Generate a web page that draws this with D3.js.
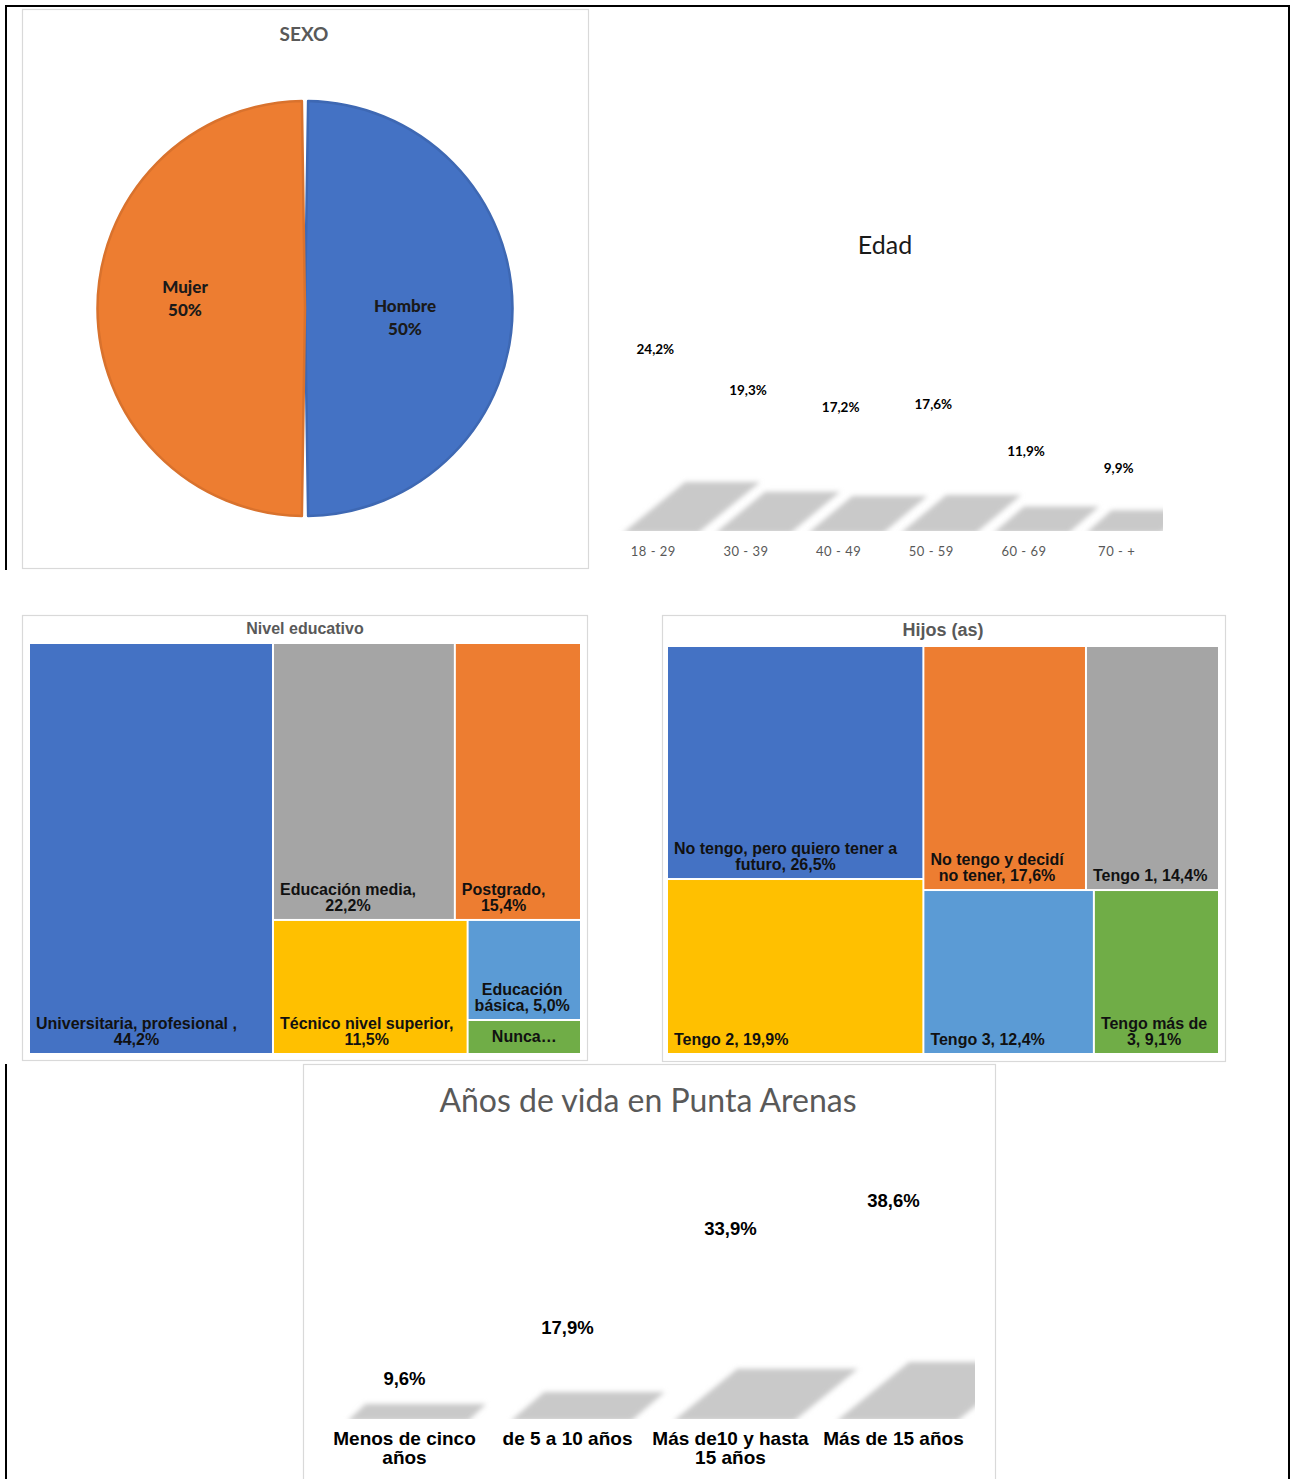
<!DOCTYPE html>
<html>
<head>
<meta charset="utf-8">
<script src="https://cdn.jsdelivr.net/npm/d3@7"></script>
<style>
  body { margin: 0; background: #fff; }
  svg { display: block; }
</style>
</head>
<body>
<svg id="chart" width="1294" height="1479"></svg>
<script>
// ---- data ----
// SEXO
const sexLabels = ["Hombre", "Mujer"];
const sexValues = [50, 50];

// Edad
const ageLabels = ["18 - 29", "30 - 39", "40 - 49", "50 - 59", "60 - 69", "70 - +"];
const ageValues = [24.2, 19.3, 17.2, 17.6, 11.9, 9.9];

// Nivel educativo (excel series order, gives the colour order)
const eduLabels = ["Universitaria, profesional ,", "Postgrado,", "Educación media,", "Técnico nivel superior,", "Educación básica,", "Nunca asistió,"];
const eduValues = [44.2, 15.4, 22.2, 11.5, 5.0, 1.7];
// how excel grouped the tiles (indices into the arrays above)
const eduGroups = [0, [[2, 1], [3, [4, 5]]]];

// Hijos (as)
const kidLabels = ["No tengo, pero quiero tener a futuro,", "No tengo y decidí no tener,", "Tengo 1,", "Tengo 2,", "Tengo 3,", "Tengo más de 3,"];
const kidValues = [26.5, 17.6, 14.4, 19.9, 12.4, 9.1];
const kidGroups = [[0, 3], [[1, 2], [4, 5]]];

// Años de vida en Punta Arenas
const yearLabels = ["Menos de cinco años", "de 5 a 10 años", "Más de10 y hasta 15 años", "Más de 15 años"];
const yearValues = [9.6, 17.9, 33.9, 38.6];

// ---- helpers ----
const svg = d3.select("#chart");
const titleGray = "#595959";
const office = ["#4472C4", "#ED7D31", "#A5A5A5", "#FFC000", "#5B9BD5", "#70AD47"];
const CAL = "Lato, 'Open Sans', sans-serif";
const ARIAL = "'Liberation Sans', Arial, sans-serif";
const pct = v => v.toFixed(1).replace(".", ",") + "%";

// text measuring for the wrapping
const meas = svg.append("text").attr("x", -999).attr("y", -999);
function textWidth(str, font, size, weight) {
    meas.attr("font-family", font).attr("font-size", size).attr("font-weight", weight).text(str);
    return meas.node().getComputedTextLength();
}
function wrap(words, maxW, font, size, weight) {
    let lines = [];
    let line = [];
    for (const w of words) {
        let test = line.concat(w).join(" ");
        if (line.length && textWidth(test, font, size, weight) > maxW) {
            lines.push(line.join(" "));
            line = [w];
        } else {
            line.push(w);
        }
    }
    lines.push(line.join(" "));
    return lines;
}

const defs = svg.append("defs");
defs.append("filter").attr("id", "soft")
    .attr("x", "-30%").attr("y", "-80%").attr("width", "160%").attr("height", "260%")
    .append("feGaussianBlur").attr("stdDeviation", 2.6);

// panel boxes
function box(x, y, w, h) {
    svg.append("rect").attr("x", x + 0.5).attr("y", y + 0.5).attr("width", w).attr("height", h)
        .attr("fill", "#fff").attr("stroke", "#d9d9d9").attr("stroke-width", 1.2);
}
box(22, 9, 566, 559);
box(22, 615, 565, 445);
box(662, 615, 563, 446);
box(303, 1064, 692, 430);

// outer black frame
const frame = svg.append("g").attr("stroke", "#000").attr("stroke-width", 2);
frame.append("line").attr("x1", 5).attr("x2", 1290).attr("y1", 6).attr("y2", 6);
frame.append("line").attr("x1", 6).attr("x2", 6).attr("y1", 5).attr("y2", 570);
frame.append("line").attr("x1", 6).attr("x2", 6).attr("y1", 1064).attr("y2", 1479);
frame.append("line").attr("x1", 1289).attr("x2", 1289).attr("y1", 5).attr("y2", 1479);

// ---- SEXO pie ----
const sexG = svg.append("g");
sexG.append("text").attr("x", 304).attr("y", 33).attr("text-anchor", "middle")
    .attr("dominant-baseline", "central").attr("font-family", CAL).attr("font-weight", "bold")
    .attr("font-size", 19).attr("fill", titleGray).text("SEXO");

const sexColor = d3.scaleOrdinal().domain(sexLabels).range(office);
const pieData = d3.pie().sort(null).padAngle(0.03).value(d => d)(sexValues);
const radius = 207.5;
const arc = d3.arc().innerRadius(0).outerRadius(radius);
const labelArc = d3.arc().innerRadius(110).outerRadius(110);
const pieG = sexG.append("g").attr("transform", "translate(305,308.5)");
pieG.selectAll("path").data(pieData).join("path")
    .attr("d", arc)
    .attr("fill", (d, i) => sexColor(sexLabels[i]))
    .attr("stroke", (d, i) => d3.color(sexColor(sexLabels[i])).darker(0.25))
    .attr("stroke-width", 2.5)
    .attr("stroke-linejoin", "round");

const labelNudge = [8, -11];
pieG.selectAll("text.lbl").data(pieData).join("text")
    .attr("class", "lbl")
    .attr("text-anchor", "middle")
    .attr("font-family", CAL).attr("font-weight", 900).attr("font-size", 17).attr("fill", "#1a1a1a")
    .attr("transform", (d, i) => {
        let c = labelArc.centroid(d);
        return `translate(${c[0] - 10},${c[1] + labelNudge[i]})`;
    })
    .each(function(d, i) {
        d3.select(this).append("tspan").attr("x", 0).attr("y", -11).attr("dominant-baseline", "central").text(sexLabels[i]);
        d3.select(this).append("tspan").attr("x", 0).attr("y", 12).attr("dominant-baseline", "central").text(d3.format(".0f")(sexValues[i]) + "%");
    });

// ---- shadow-only 3D column charts (Edad, Años) ----
function shadowBars(cfg) {
    let g = svg.append("g");
    let x = d3.scaleBand().domain(cfg.labels).range(cfg.xRange).padding(0);
    let shadowH = d3.scaleLinear().domain([0, d3.max(cfg.values)]).range([0, cfg.maxShadow]);
    let labelY = d3.scaleLinear().domain([0, d3.max(cfg.values)]).range(cfg.labelRange);
    let bw = x.bandwidth();

    let clipId = cfg.id + "-clip";
    defs.append("clipPath").attr("id", clipId).append("rect")
        .attr("x", cfg.xRange[0]).attr("y", cfg.base - 120)
        .attr("width", cfg.xRange[1] - cfg.xRange[0]).attr("height", 121);

    let line = d3.line();
    g.append("g").attr("clip-path", `url(#${clipId})`)
        .selectAll("path").data(cfg.values).join("path")
        .attr("fill", "#c9c9c9")
        .attr("filter", "url(#soft)")
        .attr("d", (v, i) => {
            let left = x(cfg.labels[i]) + bw * cfg.foot[0];
            let right = x(cfg.labels[i]) + bw * cfg.foot[1];
            let h = shadowH(v);
            let dx = h * cfg.skew;
            return line([[left, cfg.base + 3], [right, cfg.base + 3], [right + dx, cfg.base - h], [left + dx, cfg.base - h]]) + "Z";
        });

    g.selectAll("text.val").data(cfg.values).join("text")
        .attr("class", "val")
        .attr("x", (v, i) => x(cfg.labels[i]) + bw / 2 + cfg.valDx)
        .attr("y", v => labelY(v))
        .attr("text-anchor", "middle").attr("dominant-baseline", "central")
        .attr("font-family", cfg.valFont).attr("font-weight", "bold").attr("font-size", cfg.valSize)
        .attr("fill", "#000")
        .text(v => pct(v));

    g.selectAll("text.cat").data(cfg.labels).join("text")
        .attr("class", "cat")
        .attr("text-anchor", "middle")
        .attr("font-family", cfg.catFont).attr("font-weight", cfg.catWeight).attr("font-size", cfg.catSize)
        .attr("letter-spacing", cfg.catSpacing)
        .attr("fill", cfg.catColor)
        .each(function(d) {
            let lines = wrap(d.split(" "), bw - 2, cfg.catFont, cfg.catSize, cfg.catWeight);
            d3.select(this).selectAll("tspan").data(lines).join("tspan")
                .attr("x", x(d) + bw / 2)
                .attr("y", (l, k) => cfg.catY + k * cfg.catLine)
                .attr("dominant-baseline", "central")
                .text(l => l);
        });

    svg.append("text").attr("x", cfg.titleX).attr("y", cfg.titleY)
        .attr("text-anchor", "middle").attr("dominant-baseline", "central")
        .attr("font-family", CAL).attr("font-size", cfg.titleSize).attr("fill", cfg.titleColor)
        .text(cfg.title);
}

shadowBars({
    id: "edad", labels: ageLabels, values: ageValues,
    xRange: [607, 1163], base: 530, maxShadow: 48, skew: 1.3, foot: [0.17, 0.98],
    labelRange: [550, 349], valDx: 2, valFont: CAL, valSize: 13.5,
    catFont: CAL, catWeight: "normal", catSize: 13, catSpacing: 0.5, catColor: titleGray, catY: 551, catLine: 15,
    title: "Edad", titleX: 885, titleY: 244, titleSize: 25, titleColor: "#1a1a1a"
});

shadowBars({
    id: "anos", labels: yearLabels, values: yearValues,
    xRange: [323, 975], base: 1418, maxShadow: 56, skew: 1.3, foot: [0.15, 0.89],
    labelRange: [1437, 1200], valDx: 0, valFont: ARIAL, valSize: 18.5,
    catFont: ARIAL, catWeight: "bold", catSize: 19, catSpacing: 0, catColor: "#000", catY: 1438, catLine: 19,
    title: "Años de vida en Punta Arenas", titleX: 648, titleY: 1099, titleSize: 32, titleColor: titleGray
});

// ---- treemaps ----
function treemap(cfg) {
    let g = svg.append("g").attr("transform", `translate(${cfg.x},${cfg.y})`);
    const toNode = d => Array.isArray(d) ? {children: d.map(toNode)} : {i: d};
    let root = d3.hierarchy(toNode(cfg.groups)).sum(d => d.children ? 0 : cfg.values[d.i]);
    d3.treemap().tile(d3.treemapSliceDice).size([cfg.w, cfg.h]).paddingInner(2).round(false)(root);
    let color = d3.scaleOrdinal().domain(cfg.labels).range(office);

    let cells = g.selectAll("g").data(root.leaves()).join("g");
    cells.append("rect")
        .attr("x", d => d.x0).attr("y", d => d.y0)
        .attr("width", d => d.x1 - d.x0).attr("height", d => d.y1 - d.y0)
        .attr("fill", d => color(cfg.labels[d.data.i]));

    const size = 16, lh = 16, weight = "bold";
    cells.append("text")
        .attr("font-family", ARIAL).attr("font-weight", weight).attr("font-size", size)
        .attr("fill", "#111").attr("text-anchor", "middle")
        .each(function(d) {
            let words = (cfg.labels[d.data.i] + " " + pct(cfg.values[d.data.i])).split(" ");
            let cw = d.x1 - d.x0, ch = d.y1 - d.y0;
            let lines = wrap(words, cw - 10, ARIAL, size, weight);
            let t = d3.select(this);
            if (lines.length * lh + 6 > ch) {
                // not enough room: excel cuts it down
                t.append("tspan").attr("x", (d.x0 + d.x1) / 2).attr("y", (d.y0 + d.y1) / 2)
                    .attr("dominant-baseline", "central").text(words[0] + "…");
                return;
            }
            let blockW = d3.max(lines, l => textWidth(l, ARIAL, size, weight));
            t.selectAll("tspan").data(lines).join("tspan")
                .attr("x", d.x0 + 6 + blockW / 2)
                .attr("y", (l, k) => d.y1 - 8 - (lines.length - 1 - k) * lh)
                .text(l => l);
        });

    svg.append("text").attr("x", cfg.titleX).attr("y", cfg.titleY)
        .attr("text-anchor", "middle").attr("dominant-baseline", "central")
        .attr("font-family", ARIAL).attr("font-weight", "bold").attr("font-size", cfg.titleSize)
        .attr("fill", titleGray).text(cfg.title);
}

treemap({
    labels: eduLabels, values: eduValues, groups: eduGroups,
    x: 30, y: 644, w: 550, h: 409,
    title: "Nivel educativo", titleX: 305, titleY: 628, titleSize: 16
});

treemap({
    labels: kidLabels, values: kidValues, groups: kidGroups,
    x: 668, y: 647, w: 550, h: 406,
    title: "Hijos (as)", titleX: 943, titleY: 630, titleSize: 18
});

meas.remove();
</script>
</body>
</html>
